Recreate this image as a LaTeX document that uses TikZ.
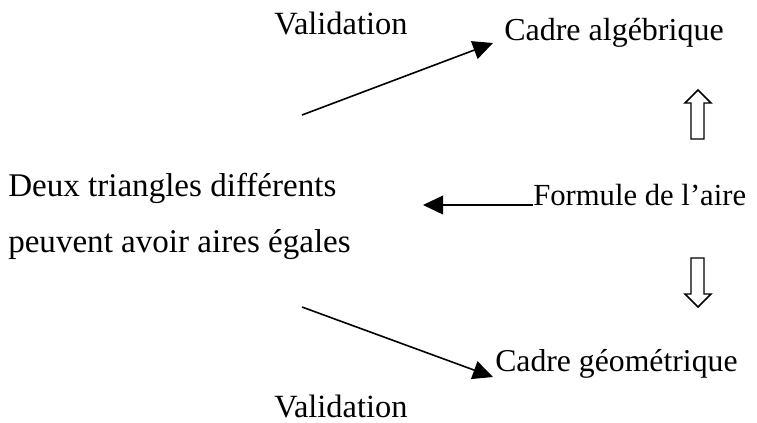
\documentclass[tikz,border=0pt]{standalone}
\usepackage{fontspec}
\setmainfont{Liberation Serif}
\usetikzlibrary{positioning,arrows.meta}

\tikzset{
  lbl/.style={inner sep=0pt, anchor=base west, font=\fontsize{#1}{29}\selectfont},
  lbl/.default=24.3,
  link/.style={line width=1.2pt, -{Triangle[length=15pt,width=14pt]}},
  hollow/.style={line width=1.1pt, fill=white}
}

\begin{document}
\begin{tikzpicture}[x=0.75pt,y=-0.75pt]
    \useasboundingbox (0,0) rectangle (757,422);

    % Texts
    \node[lbl] (valTop) at (274,34) {Validation};
    \node[lbl=24] (alg) at (504,40) {Cadre algébrique};
    \node[lbl=24.8] (deux) at (8,196) {Deux triangles différents};
    \node[lbl=24.8] (egal) at (8,252) {peuvent avoir aires égales};
    \node[lbl=23] (form) at (533,205) {Formule de l’aire};
    \node[lbl=23.8] (geo) at (495,371) {Cadre géométrique};
    \node[lbl] (valBot) at (274,417) {Validation};

    % Arrows
    \coordinate (upStart) at (302,115);
    \coordinate (downStart) at (302,307);
    \coordinate (leftEnd) at (423,205);
    \draw[link] (upStart) -- ([xshift=-8.25pt,yshift=-2.25pt]alg.base west);
    \draw[link] (downStart) -- ([xshift=-1.5pt,yshift=-4.5pt]geo.base west);
    \draw[link] (form.base west) -- (leftEnd);

    % Hollow arrows
    \draw[hollow] (691,139) -- (691,103) -- (685,103) -- (698,90) -- (711,103) -- (704,103) -- (704,139) -- cycle;
    \draw[hollow] (691,258) -- (691,294) -- (685,294) -- (698,307) -- (711,294) -- (704,294) -- (704,258) -- cycle;
\end{tikzpicture}
\end{document}
